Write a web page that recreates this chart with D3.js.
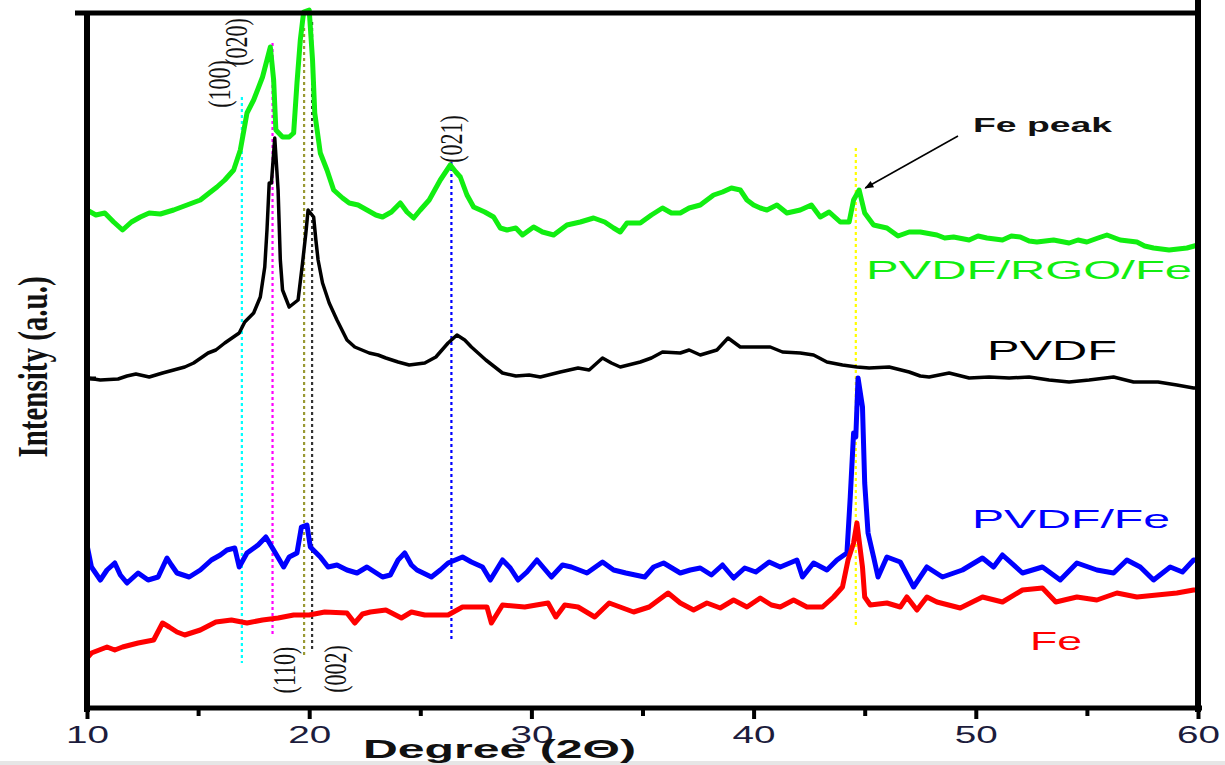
<!DOCTYPE html>
<html>
<head>
<meta charset="utf-8">
<script src="https://cdn.jsdelivr.net/npm/d3@7"></script>
<style>
  body { margin: 0; background: #fff; }
  svg { display: block; }
</style>
</head>
<body>
<div id="chart"></div>
<script>
// XRD patterns, [2theta, intensity a.u.]
const rgoFe = [
  [10.0,498],[10.4,493],[10.8,495],[11.2,486],[11.6,478],[12.0,486],[12.4,491],[12.8,495],[13.3,494],[13.9,498],
  [14.5,503],[15.1,508],[15.5,515],[15.85,521],[16.2,528],[16.6,538],[16.9,558],[17.2,595],[17.5,608],[17.9,631],
  [18.1,648],[18.25,661],[18.4,628],[18.5,578],[18.8,571],[19.1,571],[19.3,575],[19.45,625],[19.6,668],[19.75,696],
  [20.0,698],[20.15,648],[20.25,595],[20.5,555],[20.8,538],[21.1,518],[21.5,510],[21.8,505],[22.2,503],[22.6,498],
  [23.0,493],[23.3,491],[23.7,496],[24.1,505],[24.4,496],[24.7,490],[25.0,498],[25.4,508],[25.9,528],[26.35,543],
  [26.6,536],[26.8,531],[27.1,513],[27.4,501],[27.9,496],[28.3,491],[28.6,480],[28.9,478],[29.3,480],[29.6,473],
  [30.1,481],[30.5,476],[31.0,473],[31.6,483],[32.2,486],[32.8,490],[33.3,486],[33.7,480],[34.0,476],[34.3,485],
  [34.9,485],[35.4,493],[35.9,500],[36.3,495],[36.7,495],[37.1,500],[37.6,503],[38.2,513],[38.6,516],[39.0,520],
  [39.4,518],[39.7,508],[40.0,503],[40.3,500],[40.6,498],[41.05,503],[41.5,495],[42.1,498],[42.6,503],[43.0,491],
  [43.4,496],[43.9,486],[44.3,486],[44.5,508],[44.75,518],[45.0,495],[45.4,483],[45.8,481],[46.0,480],[46.5,472],
  [47.0,476],[47.5,476],[48.25,473],[48.6,470],[49.0,471],[49.7,468],[50.1,472],[50.5,470],[51.2,468],[51.6,472],
  [52.0,471],[52.4,467],[52.75,466],[53.5,468],[54.2,465],[54.6,468],[55.0,466],[55.5,470],[55.9,473],[56.5,468],
  [57.25,466],[57.6,462],[58.0,460],[58.7,458],[59.5,460],[60.0,463]
];
const pvdf = [
  [10.0,330],[10.6,328],[11.4,329],[11.8,332],[12.2,334],[12.8,331],[13.4,335],[13.9,338],[14.4,341],[14.8,345],
  [15.45,355],[15.8,358],[16.2,365],[16.85,375],[17.1,386],[17.5,395],[17.8,411],[18.0,441],[18.1,478],[18.2,525],
  [18.3,525],[18.45,570],[18.6,518],[18.7,448],[18.8,418],[19.1,401],[19.5,408],[19.7,445],[19.85,475],[19.95,498],
  [20.2,491],[20.3,468],[20.4,448],[20.6,425],[20.9,405],[21.25,388],[21.7,368],[22.05,361],[22.7,355],[23.1,353],
  [23.45,350],[24.0,346],[24.5,343],[25.2,345],[25.7,351],[26.25,365],[26.65,373],[27.0,368],[27.3,361],[27.95,348],
  [28.7,335],[29.3,332],[29.9,333],[30.4,331],[31.3,336],[32.1,340],[32.6,338],[33.2,350],[33.6,345],[34.0,341],
  [34.9,346],[35.4,350],[35.9,356],[36.7,355],[37.1,358],[37.6,353],[38.35,358],[38.85,370],[39.4,361],[40.15,361],
  [40.75,361],[41.3,356],[42.1,355],[42.7,353],[43.3,346],[44.0,343],[44.65,341],[45.2,340],[46.1,341],[47.0,336],
  [47.5,332],[47.9,331],[48.8,335],[49.7,330],[50.6,331],[51.5,330],[52.4,331],[53.3,328],[54.2,326],[55.1,328],
  [56.2,331],[57.1,326],[58.2,326],[59.05,323],[59.8,320],[60.0,320]
];
const pvdfFe = [
  [10.0,163],[10.2,141],[10.6,128],[10.9,138],[11.25,145],[11.5,133],[11.8,125],[12.3,135],[12.75,128],[13.2,131],
  [13.6,150],[13.8,143],[14.05,135],[14.6,131],[15.1,138],[15.6,148],[16.0,153],[16.3,158],[16.65,160],[16.85,141],
  [17.2,155],[17.7,163],[18.05,171],[18.4,158],[18.85,141],[19.1,151],[19.45,155],[19.65,181],[19.9,183],[20.05,161],
  [20.5,151],[20.85,141],[21.25,143],[21.7,138],[22.15,135],[22.6,141],[23.3,131],[23.65,133],[24.0,148],[24.3,155],
  [24.6,143],[24.85,138],[25.5,131],[25.9,138],[26.25,145],[26.9,151],[27.3,146],[27.8,141],[28.15,128],[28.7,148],
  [29.05,140],[29.4,128],[29.8,136],[30.25,148],[30.9,131],[31.4,143],[31.8,141],[32.5,135],[33.2,146],[33.7,138],
  [34.25,135],[35.1,131],[35.5,141],[35.95,145],[36.7,135],[37.15,138],[37.6,140],[38.1,133],[38.6,143],[39.1,130],
  [39.6,140],[40.1,136],[40.7,146],[41.2,141],[41.95,148],[42.2,131],[42.7,145],[43.3,138],[43.75,148],[44.2,155],
  [44.35,211],[44.5,275],[44.6,271],[44.7,330],[44.9,301],[45.0,225],[45.15,175],[45.4,151],[45.6,131],[46.0,151],
  [46.6,146],[47.2,121],[47.8,141],[48.5,131],[49.4,138],[50.3,150],[50.8,141],[51.2,153],[52.1,135],[53.0,141],
  [53.8,128],[54.55,145],[55.45,138],[56.2,135],[56.8,148],[57.4,141],[58.0,128],[58.75,141],[59.3,136],[59.8,148],[60.0,148]
];
const fe = [
  [10.0,50],[10.2,55],[10.9,61],[11.25,58],[11.6,61],[12.3,65],[13.0,68],[13.4,85],[13.7,81],[14.05,76],
  [14.4,73],[15.1,78],[15.8,86],[16.5,88],[17.2,85],[17.9,88],[18.6,90],[19.3,93],[20.0,93],[20.7,96],
  [21.7,95],[22.05,85],[22.4,94],[22.75,96],[23.45,98],[24.15,90],[24.6,96],[25.2,93],[26.25,93],[26.9,101],
  [28.0,101],[28.2,85],[28.7,103],[29.7,101],[30.75,105],[31.1,91],[31.5,103],[32.1,101],[32.85,91],[33.5,105],
  [34.6,96],[35.3,101],[36.15,115],[36.7,105],[37.3,98],[37.9,105],[38.5,100],[39.1,108],[39.7,101],[40.3,110],
  [40.8,103],[41.2,101],[41.8,108],[42.4,101],[43.1,101],[43.6,111],[44.0,121],[44.25,148],[44.5,165],[44.65,185],
  [44.9,141],[45.0,111],[45.25,103],[46.0,105],[46.6,101],[46.9,111],[47.35,98],[47.8,111],[48.25,106],[49.3,100],
  [50.3,111],[51.2,106],[52.1,118],[53.0,120],[53.6,106],[54.55,111],[55.45,108],[56.35,115],[57.25,111],[58.15,113],
  [59.05,115],[59.8,118],[60.0,118]
];

const seriesNames = ['PVDF/RGO/Fe', 'PVDF', 'PVDF/Fe', 'Fe'];
const seriesColors = ['#11ee11', '#000000', '#0000ff', '#ff0000'];

// reflection markers: 2theta, top and bottom of the dotted guide (a.u.)
const guideTheta = [16.97, 18.35, 19.77, 20.13, 26.4, 44.6];
const guideTop = [611, 665, 680, 686, 546, 560];
const guideBottom = [45, 71, 50, 56, 69, 80];
const guideColors = ['#00ffff', '#ff00ff', '#999933', '#333333', '#0000ff', '#ffff00'];

// Miller index labels: text, 2theta of centre, centre height (a.u.)
const hklText = ['(100)', '(020)', '(021)', '(110)', '(002)'];
const hklTheta = [15.97, 16.75, 26.42, 18.87, 21.2];
const hklLevel = [624, 666, 569, 38, 39];

const xTicks = [10, 15, 20, 25, 30, 35, 40, 45, 50, 55, 60];

const W = 1225, H = 765;
const margin = { top: 14, right: 27, bottom: 57, left: 87 };

const svg = d3.select('#chart').append('svg')
  .attr('width', W).attr('height', H);

svg.append('rect').attr('width', W).attr('height', H).attr('fill', '#fff');
svg.append('rect').attr('x', 0).attr('y', 761).attr('width', W).attr('height', 4).attr('fill', '#e6e6e6');

const x = d3.scaleLinear().domain([10, 60]).range([margin.left, W - margin.right]);
const y = d3.scaleLinear().domain([0, 694]).range([H - margin.bottom, margin.top]);

// guide lines
guideTheta.forEach((t, i) => {
  svg.append('line')
    .attr('x1', x(t)).attr('x2', x(t))
    .attr('y1', y(guideTop[i])).attr('y2', y(guideBottom[i]))
    .attr('stroke', guideColors[i])
    .attr('stroke-width', 2.2)
    .attr('stroke-dasharray', '3,3');
});

// patterns
const line = d3.line()
  .x(d => x(d[0]))
  .y(d => y(d[1]));

const allSeries = [rgoFe, pvdf, pvdfFe, fe];
const widths = [5, 3.5, 5, 5];
allSeries.forEach((s, i) => {
  svg.append('path')
    .datum(s)
    .attr('d', line)
    .attr('fill', 'none')
    .attr('stroke', seriesColors[i])
    .attr('stroke-width', widths[i])
    .attr('stroke-linejoin', 'round');
});

// frame
const x0 = x(10), x1 = x(60), yb = y(0), yt = y(694);
svg.append('line').attr('x1', 75).attr('x2', x1 + 3).attr('y1', yt - 1).attr('y2', yt - 1)
  .attr('stroke', '#000').attr('stroke-width', 5);
svg.append('line').attr('x1', x1).attr('x2', x1).attr('y1', 0).attr('y2', yb + 4)
  .attr('stroke', '#000').attr('stroke-width', 6);

const gx = svg.append('g')
  .attr('transform', `translate(0,${yb})`)
  .call(d3.axisBottom(x).tickValues(xTicks).tickSize(9).tickFormat(''));
gx.select('.domain').attr('stroke-width', 5).attr('d', `M${x0 - 3},0H${x1 + 4}`);
gx.selectAll('.tick line')
  .attr('stroke-width', 4)
  .attr('y2', d => d % 10 === 0 ? 11 : 8);

const gy = svg.append('g')
  .attr('transform', `translate(${x0},0)`)
  .call(d3.axisLeft(y).tickValues([330]).tickSize(-9).tickFormat(''));
gy.select('.domain').attr('stroke-width', 6).attr('d', `M0,${yt - 3}V${yb + 4}`);
gy.selectAll('.tick line').attr('stroke-width', 4);

// tick labels (figure is horizontally stretched)
svg.selectAll('.xlab')
  .data(xTicks.filter(d => d % 10 === 0))
  .enter().append('text')
  .attr('class', 'xlab')
  .attr('x', d => x(d) - 21)
  .attr('y', yb + 35)
  .attr('textLength', 43)
  .attr('lengthAdjust', 'spacingAndGlyphs')
  .attr('font-family', 'Liberation Sans, Arial, sans-serif')
  .attr('font-size', 24)
  .attr('fill', '#1c1c3c')
  .text(d => d);

svg.append('text')
  .attr('x', 363).attr('y', 758)
  .attr('textLength', 273)
  .attr('lengthAdjust', 'spacingAndGlyphs')
  .attr('font-family', 'Liberation Sans, Arial, sans-serif')
  .attr('font-weight', 'bold')
  .attr('font-size', 25)
  .attr('fill', '#111')
  .text('Degree (2\u0398)');

svg.append('text')
  .attr('transform', 'translate(33,367) scale(1.45,1) rotate(-90)')
  .attr('text-anchor', 'middle')
  .attr('dominant-baseline', 'central')
  .attr('font-family', 'Liberation Serif, Times New Roman, serif')
  .attr('font-weight', 'bold')
  .attr('font-size', 29)
  .attr('fill', '#111')
  .text('Intensity (a.u.)');

// hkl labels
hklText.forEach((t, i) => {
  svg.append('text')
    .attr('transform', `translate(${x(hklTheta[i])},${y(hklLevel[i])}) scale(1.45,1) rotate(-90)`)
    .attr('text-anchor', 'middle')
    .attr('dominant-baseline', 'central')
    .attr('font-family', 'Liberation Serif, Times New Roman, serif')
    .attr('font-size', 22)
    .attr('fill', '#111')
    .text(t);
});

// series labels
const labelPos = [[866, 279, 326, 25], [987, 360, 130, 27], [972, 528, 198, 25], [1030, 650, 52, 25]];
seriesNames.forEach((n, i) => {
  const p = labelPos[i];
  svg.append('text')
    .attr('x', p[0]).attr('y', p[1])
    .attr('textLength', p[2])
    .attr('lengthAdjust', 'spacingAndGlyphs')
    .attr('font-family', 'Liberation Sans, Arial, sans-serif')
    .attr('font-size', p[3])
    .attr('fill', seriesColors[i])
    .text(n);
});

// Fe peak annotation
svg.append('defs').append('marker')
  .attr('id', 'arr')
  .attr('viewBox', '0 0 10 10')
  .attr('refX', 9).attr('refY', 5)
  .attr('markerWidth', 14).attr('markerHeight', 9)
  .attr('markerUnits', 'userSpaceOnUse')
  .attr('orient', 'auto')
  .append('path').attr('d', 'M0,1L10,5L0,9z').attr('fill', '#000');

svg.append('line')
  .attr('x1', 958).attr('y1', 136)
  .attr('x2', x(44.8) + 5).attr('y2', y(520))
  .attr('stroke', '#000').attr('stroke-width', 1.5)
  .attr('marker-end', 'url(#arr)');

svg.append('text')
  .attr('x', 973).attr('y', 132)
  .attr('textLength', 139)
  .attr('lengthAdjust', 'spacingAndGlyphs')
  .attr('font-family', 'Liberation Sans, Arial, sans-serif')
  .attr('font-weight', 'bold')
  .attr('font-size', 20)
  .attr('fill', '#111')
  .text('Fe peak');
</script>
</body>
</html>
